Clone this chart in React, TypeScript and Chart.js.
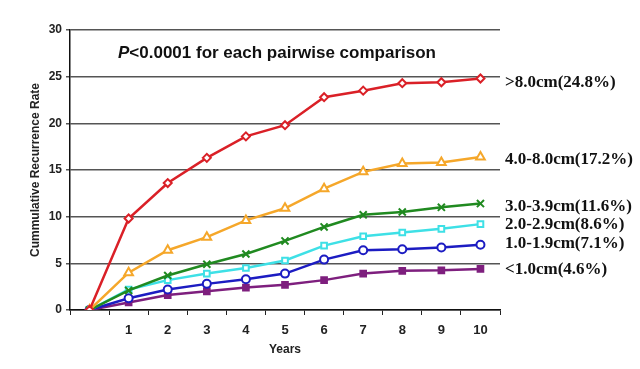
import React, { useEffect, useRef } from "react";
import { Chart, registerables } from "chart.js";

Chart.register(...registerables);

const years = ["", "1", "2", "3", "4", "5", "6", "7", "8", "9", "10"];
const yTicks = [0, 5, 10, 15, 20, 25, 30];

const gt8 = [0, 9.8, 13.6, 16.3, 18.6, 19.8, 22.8, 23.5, 24.3, 24.4, 24.8];
const s4to8 = [0, 4.0, 6.4, 7.8, 9.6, 10.9, 13.0, 14.8, 15.7, 15.8, 16.4];
const s3to39 = [0, 2.1, 3.7, 4.9, 6.0, 7.4, 8.9, 10.2, 10.5, 11.0, 11.4];
const s2to29 = [0, 2.2, 3.2, 3.9, 4.5, 5.3, 6.9, 7.9, 8.3, 8.7, 9.2];
const s1to19 = [0, 1.25, 2.2, 2.8, 3.3, 3.9, 5.4, 6.4, 6.5, 6.7, 7.0];
const lt1 = [0, 0.8, 1.6, 2.0, 2.4, 2.7, 3.2, 3.9, 4.2, 4.25, 4.4];

const seriesLabels = [
  ">8.0cm(24.8%)",
  "4.0-8.0cm(17.2%)",
  "3.0-3.9cm(11.6%)",
  "2.0-2.9cm(8.6%)",
  "1.0-1.9cm(7.1%)",
  "<1.0cm(4.6%)",
];
// y positions (in data units) at which the right-hand labels sit
const labelYValues = [24.4, 16.1, 11.1, 9.2, 7.1, 4.3];

const pLetter = "P";
const pRest = "<0.0001 for each pairwise comparison";
const yTitle = "Cummulative Recurrence Rate";
const xTitle = "Years";

const labelsPlugin = {
  id: "sideLabels",
  afterDraw(chart: any) {
    const ctx = chart.ctx;
    const ys = chart.scales.y;
    const area = chart.chartArea;
    ctx.save();
    ctx.fillStyle = "#111";
    ctx.textBaseline = "middle";
    ctx.textAlign = "left";
    ctx.font = "bold 17px 'Liberation Serif', 'Times New Roman', serif";
    seriesLabels.forEach((t, i) => {
      ctx.fillText(t, area.right + 5, ys.getPixelForValue(labelYValues[i]));
    });
    // p value annotation
    ctx.font = "italic bold 17px 'Liberation Sans', Arial, sans-serif";
    const px = area.left + 48;
    const py = ys.getPixelForValue(27.55);
    ctx.fillText(pLetter, px, py);
    const w = ctx.measureText(pLetter).width;
    ctx.font = "bold 17px 'Liberation Sans', Arial, sans-serif";
    ctx.fillText(pRest, px + w, py);
    ctx.restore();
  },
};

function mk(label: string, data: number[], color: string, style: string, fill: string, radius = 4) {
  return {
    label,
    data,
    borderColor: color,
    backgroundColor: fill,
    pointBorderColor: color,
    pointBackgroundColor: fill,
    pointStyle: style,
    pointRadius: radius,
    pointBorderWidth: 2,
    borderWidth: 2.5,
    tension: 0,
  };
}

export default function App() {
  const ref = useRef<HTMLCanvasElement>(null);
  useEffect(() => {
    if (!ref.current) return;
    const font = { family: "'Liberation Sans', Arial, sans-serif", weight: "bold" as const };
    const chart = new Chart(ref.current, {
      type: "line",
      data: {
        labels: years,
        datasets: [
          mk(seriesLabels[0], gt8, "#DA2027", "rectRot", "#ffffff", 4),
          mk(seriesLabels[1], s4to8, "#F5A72A", "triangle", "#ffffff", 5),
          mk(seriesLabels[2], s3to39, "#208A20", "crossRot", "#208A20", 5),
          mk(seriesLabels[3], s2to29, "#3EE0E6", "rect", "#ffffff", 4),
          mk(seriesLabels[4], s1to19, "#1C1CC2", "circle", "#ffffff", 4),
          mk(seriesLabels[5], lt1, "#7E1F7E", "rect", "#7E1F7E", 4),
        ],
      },
      options: {
        responsive: false,
        animation: false,
        layout: { padding: { left: 28, right: 140, top: 30, bottom: 0 } },
        plugins: { legend: { display: false }, tooltip: { enabled: false } },
        scales: {
          x: {
            type: "category",
            offset: true,
            grid: {
              offset: true,
              drawOnChartArea: false,
              drawTicks: true,
              tickLength: 5,
              color: "#222",
              lineWidth: 1,
            },
            border: { color: "#111", width: 1.5 },
            ticks: {
              color: "#222",
              font: { ...font, size: 13 },
              padding: 8,
              maxRotation: 0,
              autoSkip: false,
            },
            title: {
              display: true,
              text: xTitle,
              color: "#222",
              font: { ...font, size: 12 },
              padding: { top: 4, bottom: 12 },
            },
            afterFit(scale: any) {
              scale.height = 59;
            },
          },
          y: {
            min: 0,
            max: 30,
            afterBuildTicks(scale: any) {
              scale.ticks = yTicks.map((v) => ({ value: v }));
            },
            grid: {
              color: "#555",
              lineWidth: 1.5,
              drawTicks: true,
              tickLength: 4,
            },
            border: { color: "#111", width: 1.5 },
            ticks: {
              color: "#222",
              font: { ...font, size: 12 },
              padding: 4,
            },
            title: {
              display: true,
              text: yTitle,
              color: "#222",
              font: { ...font, size: 12 },
              padding: { top: 0, bottom: 0 },
            },
            afterFit(scale: any) {
              scale.width = 42;
            },
          },
        },
      },
      plugins: [labelsPlugin],
    });
    return () => chart.destroy();
  }, []);
  return (
    <div style={{ position: "fixed", left: 0, top: 0, width: 640, height: 369, background: "#fff" }}>
      <canvas ref={ref} width={640} height={369} style={{ width: 640, height: 369 }} />
    </div>
  );
}
